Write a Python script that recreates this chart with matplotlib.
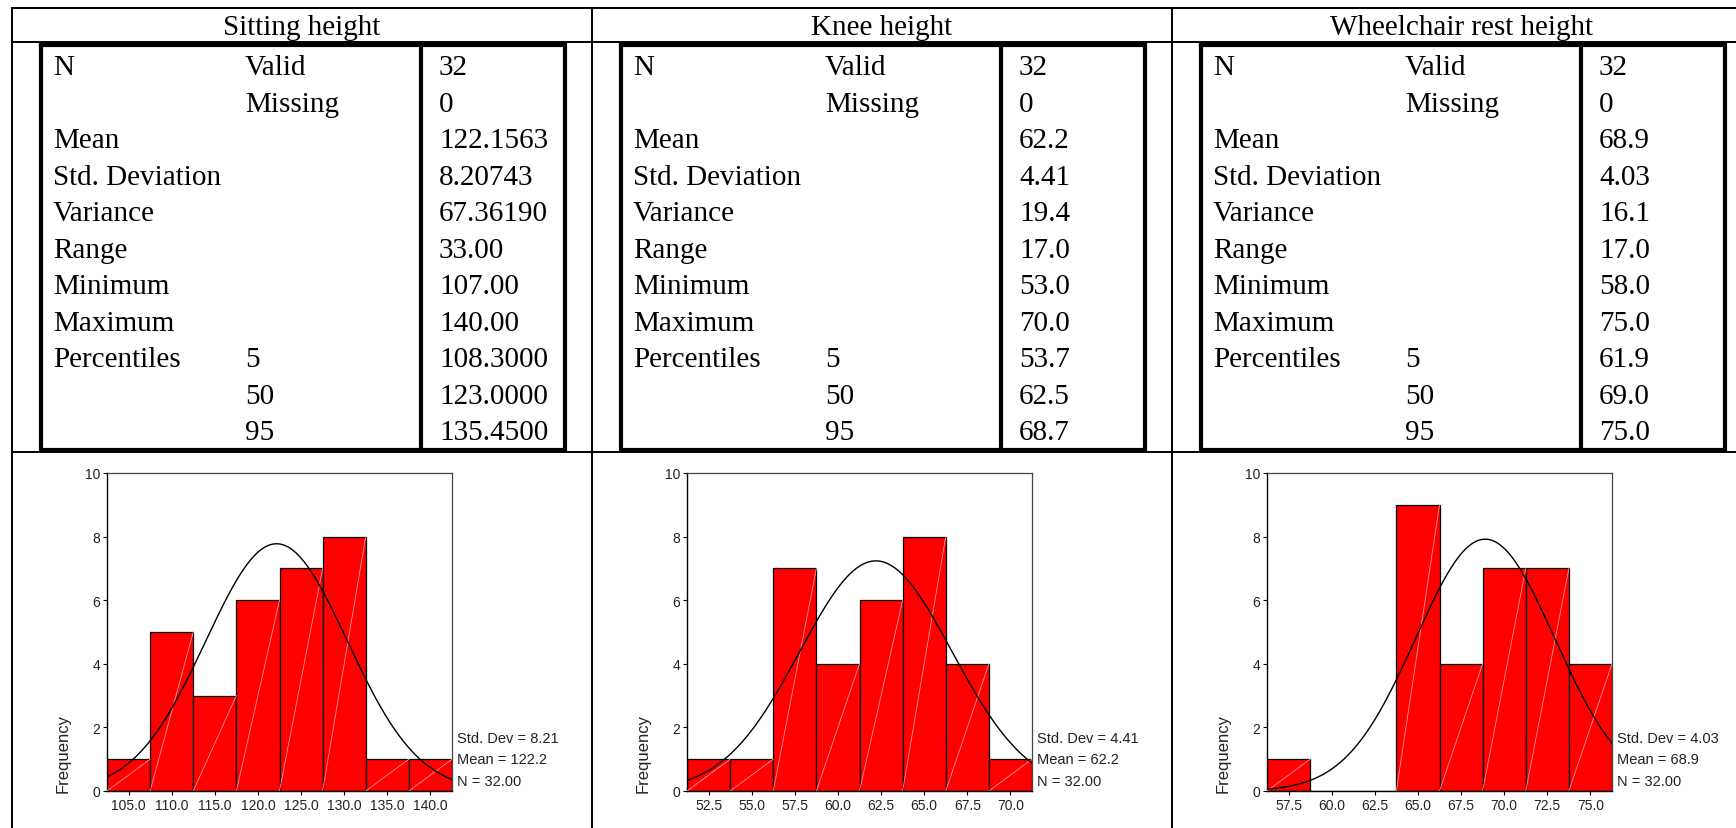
import matplotlib.pyplot as plt
import numpy as np

# --- data ---
titles = ["Sitting height", "Knee height", "Wheelchair rest height"]
row_labels = ["N", "", "Mean", "Std. Deviation", "Variance", "Range",
              "Minimum", "Maximum", "Percentiles", "", ""]
sub_labels = ["Valid", "Missing", "", "", "", "", "", "", "5", "50", "95"]
sitting_stats = ["32", "0", "122.1563", "8.20743", "67.36190", "33.00",
                 "107.00", "140.00", "108.3000", "123.0000", "135.4500"]
knee_stats = ["32", "0", "62.2", "4.41", "19.4", "17.0",
              "53.0", "70.0", "53.7", "62.5", "68.7"]
wheel_stats = ["32", "0", "68.9", "4.03", "16.1", "17.0",
               "58.0", "75.0", "61.9", "69.0", "75.0"]

sitting_centers = [105.0, 110.0, 115.0, 120.0, 125.0, 130.0, 135.0, 140.0]
sitting_counts = [1, 5, 3, 6, 7, 8, 1, 1]
knee_centers = [52.5, 55.0, 57.5, 60.0, 62.5, 65.0, 67.5, 70.0]
knee_counts = [1, 1, 7, 4, 6, 8, 4, 1]
wheel_centers = [57.5, 60.0, 62.5, 65.0, 67.5, 70.0, 72.5, 75.0]
wheel_counts = [1, 0, 0, 9, 4, 7, 7, 4]

bin_widths = [5.0, 2.5, 2.5]
means = [122.16, 62.2, 68.9]
std_devs = [8.21, 4.41, 4.03]
n_cases = 32
mean_text = ["122.2", "62.2", "68.9"]

W, H = 1736, 829
fig = plt.figure(figsize=(W / 100, H / 100), dpi=100)
bg = fig.add_axes([0, 0, 1, 1])
bg.set_xlim(0, W)
bg.set_ylim(H, 0)
bg.axis("off")

serif = "Liberation Serif"
sans = "Liberation Sans"
tsize = 21
thin = 1.4
thick = 3.0

# outer table grid
col_left = [12, 592, 1172]
bg.plot([12, W], [9, 9], color="black", lw=thin)
bg.plot([12, W], [43, 43], color="black", lw=thin)
bg.plot([12, W], [453, 453], color="black", lw=thin)
for x in col_left:
    bg.plot([x, x], [9, H], color="black", lw=thin)

stats = [sitting_stats, knee_stats, wheel_stats]
for k, x0 in enumerate(col_left):
    bg.text(x0 + 290, 35, titles[k], family=serif, fontsize=tsize,
            ha="center", va="baseline")
    il, ir = x0 + 29, x0 + 553
    div = il + 380
    top, bot = 46, 451
    bg.plot([il, ir, ir, il, il], [top, top, bot, bot, top],
            color="black", lw=thick, solid_joinstyle="miter")
    bg.plot([div, div], [top, bot], color="black", lw=thick)
    for i in range(len(row_labels)):
        yb = 75 + 36.5 * i
        bg.text(il + 12, yb, row_labels[i], family=serif, fontsize=tsize, va="baseline")
        bg.text(il + 204, yb, sub_labels[i], family=serif, fontsize=tsize, va="baseline")
        bg.text(div + 18, yb, stats[k][i], family=serif, fontsize=tsize, va="baseline")

# histograms
hists = [(sitting_centers, sitting_counts), (knee_centers, knee_counts),
         (wheel_centers, wheel_counts)]
ax_top, ax_bot = 474, 792
for k, x0 in enumerate(col_left):
    centers, counts = hists[k]
    w = bin_widths[k]
    axl, axr = x0 + 95, x0 + 440
    ax = fig.add_axes([axl / W, 1 - ax_bot / H, (axr - axl) / W, (ax_bot - ax_top) / H])
    ax.bar(centers, counts, width=w, color="#ff0000", edgecolor="black", linewidth=0.9, zorder=2)
    for c, n in zip(centers, counts):
        if n > 0:
            ax.plot([c - w / 2, c + w / 2], [0, n], color="#ff9a9a", lw=0.6, zorder=3)
    lo, hi = centers[0] - w / 2, centers[-1] + w / 2
    xs = np.linspace(lo, hi, 300)
    ys = n_cases * w / (std_devs[k] * np.sqrt(2 * np.pi)) * np.exp(-0.5 * ((xs - means[k]) / std_devs[k]) ** 2)
    ax.plot(xs, ys, color="black", lw=1.0, zorder=4)
    ax.set_xlim(lo, hi)
    ax.set_ylim(0, 10)
    ax.set_xticks(centers)
    ax.set_xticklabels(["%.1f" % c for c in centers], family=sans, fontsize=10, color="#222222")
    ax.set_yticks([0, 2, 4, 6, 8, 10])
    ax.set_yticklabels(["0", "2", "4", "6", "8", "10"], family=sans, fontsize=10, color="#222222")
    ax.tick_params(direction="out", length=3, width=0.8, pad=2)
    for s in ["left", "bottom"]:
        ax.spines[s].set_color("black")
        ax.spines[s].set_linewidth(1.0)
    for s in ["top", "right"]:
        ax.spines[s].set_color("#444444")
        ax.spines[s].set_linewidth(0.9)

    bg.text(x0 + 51, ax_bot + 1, "Frequency", family=sans, fontsize=12,
            rotation=90, ha="center", va="bottom", color="#222222")
    info = ["Std. Dev = %.2f" % std_devs[k], "Mean = " + mean_text[k], "N = %.2f" % n_cases]
    for j, t in enumerate(info):
        bg.text(axr + 5, 739 + 21.5 * j, t, family=sans, fontsize=10.5,
                va="center", color="#222222")

fig.savefig("out.png", dpi=100)
